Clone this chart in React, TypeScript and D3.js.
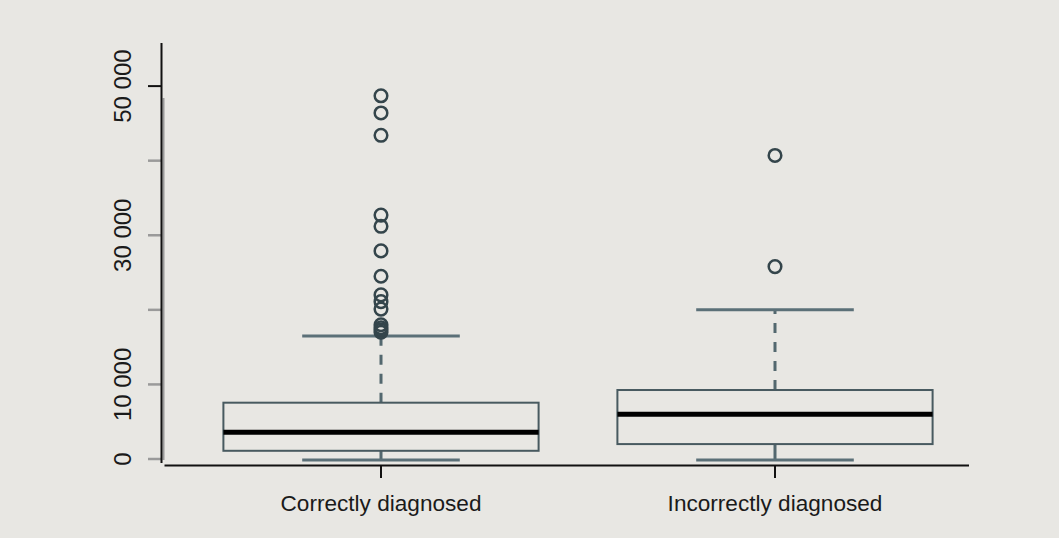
import React from "react";
import * as d3 from "d3";

const categories = ["Correctly diagnosed", "Incorrectly diagnosed"];
const lowerWhisker = [0, 0];
const q1 = [1100, 2000];
const medians = [3580, 6000];
const q3 = [7550, 9250];
const upperWhisker = [16500, 20000];
const outliersCorrect = [48700, 46400, 43400, 32700, 31200, 27900, 24500, 22000, 21100, 20100, 18000, 17600, 17300, 17000];
const outliersIncorrect = [40700, 25800];
const outliers = [outliersCorrect, outliersIncorrect];
const yTicks = [0, 10000, 20000, 30000, 40000, 50000];
const yTickLabels = [0, 10000, 30000, 50000];

const W = 1059;
const H = 538;
const BG = "#e8e7e3";

export default function App() {
  const y = d3.scaleLinear().domain([0, 50000]).range([459, 86.1]);
  const x = d3.scalePoint<string>().domain(categories).range([184, 972]).padding(0.5);
  const step = x.step();
  const boxW = step * 0.8;
  const capW = boxW / 2;
  const fmt = (v: number) => d3.format(",")(v).replace(/,/g, " ");
  const axisX = 161.5;
  const baseY = 465.5;

  return (
    <svg width={W} height={H} style={{ position: "absolute", left: 0, top: 0 }}>
      <rect x={0} y={0} width={W} height={H} fill={BG} />
      {/* original grey axis */}
      <line x1={axisX + 2} x2={axisX + 2} y1={y(0) + 1} y2={y(48400)} stroke="#9a9a9a" strokeWidth={2} />
      {yTicks.map((t) => (
        <line key={t} x1={148} x2={axisX} y1={y(t)} y2={y(t)} stroke={t === 50000 ? "#111" : "#9a9a9a"} strokeWidth={t === 50000 ? 2 : 2.5} />
      ))}
      {yTickLabels.map((t) => (
        <text key={t} transform={`translate(${131},${y(t)}) rotate(-90)`} textAnchor="middle"
          fontFamily="'Liberation Sans', Arial, sans-serif" fontSize={24} fill="#1a1a1a">{fmt(t)}</text>
      ))}
      {/* black axes */}
      <line x1={axisX} x2={axisX} y1={43} y2={463} stroke="#111" strokeWidth={2} />
      <line x1={axisX + 3} x2={969} y1={baseY} y2={baseY} stroke="#111" strokeWidth={2} />
      {categories.map((c) => (
        <line key={c} x1={x(c)!} x2={x(c)!} y1={baseY} y2={478} stroke="#111" strokeWidth={2} />
      ))}
      {categories.map((c, i) => {
        const cx = x(c)!;
        return (
          <g key={c}>
            {/* whiskers */}
            <line x1={cx} x2={cx} y1={y(q3[i])} y2={y(upperWhisker[i])} stroke="#53686f" strokeWidth={3} strokeDasharray="10 9" />
            <line x1={cx} x2={cx} y1={y(q1[i])} y2={y(lowerWhisker[i])} stroke="#53686f" strokeWidth={3} />
            <line x1={cx - capW / 2} x2={cx + capW / 2} y1={y(upperWhisker[i])} y2={y(upperWhisker[i])} stroke="#5b7078" strokeWidth={3} />
            <line x1={cx - capW / 2} x2={cx + capW / 2} y1={y(lowerWhisker[i]) + 1} y2={y(lowerWhisker[i]) + 1} stroke="#5b7078" strokeWidth={3} />
            {/* box */}
            <rect x={cx - boxW / 2} y={y(q3[i])} width={boxW} height={y(q1[i]) - y(q3[i])} fill="none" stroke="#485a60" strokeWidth={2} />
            <line x1={cx - boxW / 2} x2={cx + boxW / 2} y1={y(medians[i])} y2={y(medians[i])} stroke="#000" strokeWidth={5} />
            {/* outliers */}
            {outliers[i].map((v, j) => (
              <circle key={j} cx={cx} cy={y(v)} r={6.3} fill="none" stroke="#34454b" strokeWidth={2.5} />
            ))}
            <text x={cx} y={511} textAnchor="middle" fontFamily="'Liberation Sans', Arial, sans-serif" fontSize={22.6} fill="#1a1a1a">{c}</text>
          </g>
        );
      })}
    </svg>
  );
}
